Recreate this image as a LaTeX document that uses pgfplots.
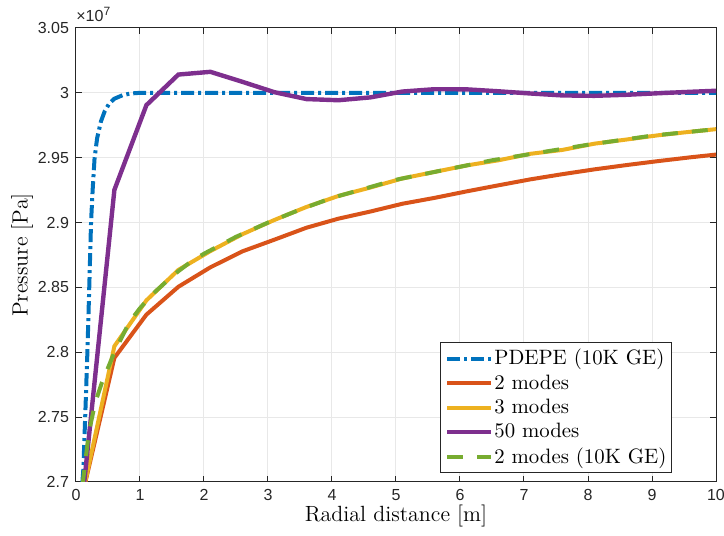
\documentclass[border=0pt]{standalone}
\usepackage{fontspec}
\usepackage{pgfplots}
\pgfplotsset{compat=1.18}
\newfontfamily\tickfont{Liberation Sans}
\definecolor{mblue}{rgb}{0,0.447,0.741}
\definecolor{morange}{rgb}{0.85,0.325,0.098}
\definecolor{myellow}{rgb}{0.929,0.694,0.125}
\definecolor{mpurple}{rgb}{0.494,0.184,0.556}
\definecolor{mgreen}{rgb}{0.466,0.674,0.188}
\definecolor{axgray}{rgb}{0.15,0.15,0.15}

\begin{document}
\begin{tikzpicture}
\begin{axis}[
  scale only axis,
  width=320pt, height=227pt,
  xmin=0, xmax=10,
  ymin=2.7e7, ymax=3.05e7,
  xtick={0,1,...,10},
  ytick={2.7e7,2.75e7,2.8e7,2.85e7,2.9e7,2.95e7,3e7,3.05e7},
  scaled y ticks=base 10:-7,
  ytick scale label code/.code={{\tickfont\fontsize{8}{9}\selectfont ×10\textsuperscript{#1}}},
  every y tick scale label/.style={at={(rel axis cs:0,1)}, anchor=south west, inner sep=0pt, yshift=3pt, text=axgray},
  /pgf/number format/assume math mode=true,
  tick label style={font=\tickfont\fontsize{8}{9}\selectfont, text=axgray},
  axis line style={axgray, line width=0.5pt},
  every tick/.style={axgray, line width=0.5pt},
  major tick length=3.2pt,
  tick align=inside,
  grid=major,
  major grid style={black!9, line width=0.5pt},
  xlabel={Radial distance [m]},
  ylabel={Pressure [Pa]},
  label style={font=\fontsize{11}{13}\selectfont},
  xlabel style={at={(axis description cs:0.5,-0.075)}, anchor=center},
  ylabel style={at={(axis description cs:-0.084,0.5)}, anchor=center},
  legend style={at={(rel axis cs:1,0)}, anchor=south east, xshift=-22pt, yshift=4.25pt,
    draw=axgray, fill=white, line width=0.5pt,
    font=\fontsize{10.4}{12}\selectfont,
    inner xsep=2pt, inner ysep=1.75pt,
    column sep=0pt,
    nodes={inner xsep=0.5pt, inner ysep=1.7pt}},
  legend cell align=left,
  legend image code/.code={\draw[#1] (0pt,0pt) -- (22pt,0pt);},
]
\addplot[mblue, line width=2pt, dash pattern=on 6.5pt off 2pt on 1.5pt off 2pt] coordinates {
  (0.1,2.700e7) (0.115,2.710e7) (0.145,2.752e7) (0.18,2.803e7) (0.21,2.855e7)
  (0.235,2.900e7) (0.26,2.925e7) (0.29,2.9495e7) (0.33,2.965e7) (0.39,2.978e7)
  (0.45,2.986e7) (0.52,2.9918e7) (0.6,2.9955e7) (0.73,2.9982e7) (0.85,2.9995e7)
  (1.0,3.000e7) (2,3.000e7) (4,3.000e7) (6,3.000e7) (8,3.000e7) (10,3.000e7)
};
\addlegendentry{PDEPE (10K GE)}
\addplot[morange, line width=2pt] coordinates {
  (0.1,2.690e7) (0.6,2.7957e7) (1.1,2.829e7) (1.6,2.8505e7) (2.1,2.8655e7)
  (2.6,2.8778e7) (3.1,2.8868e7) (3.6,2.896e7) (4.1,2.903e7) (4.6,2.9085e7)
  (5.1,2.9145e7) (5.6,2.919e7) (6.1,2.924e7) (6.6,2.9287e7) (7.1,2.9333e7)
  (7.6,2.9373e7) (8.1,2.941e7) (8.6,2.9443e7) (9.1,2.9474e7) (9.6,2.9503e7)
  (10,2.9524e7)
};
\addlegendentry{2 modes}
\addplot[myellow, line width=2pt] coordinates {
  (0.1,2.690e7) (0.6,2.8047e7) (1.1,2.840e7) (1.6,2.8635e7) (2.1,2.878e7)
  (2.6,2.891e7) (3.1,2.902e7) (3.6,2.912e7) (4.1,2.9205e7) (4.6,2.927e7)
  (5.1,2.934e7) (5.6,2.939e7) (6.1,2.944e7) (6.6,2.948e7) (7.1,2.953e7)
  (7.6,2.956e7) (8.1,2.9608e7) (8.6,2.964e7) (9.1,2.9673e7) (9.6,2.970e7)
  (10,2.972e7)
};
\addlegendentry{3 modes}
\addplot[mpurple, line width=2.2pt] coordinates {
  (0.1,2.686e7) (0.6,2.9252e7) (1.1,2.9905e7) (1.6,3.0141e7) (2.1,3.0162e7)
  (2.6,3.0085e7) (3.1,3.0005e7) (3.6,2.9952e7) (4.1,2.9943e7) (4.6,2.9965e7)
  (5.1,3.0010e7) (5.6,3.0028e7) (6.1,3.0027e7) (6.6,3.0012e7) (7.1,2.9995e7)
  (7.6,2.9980e7) (8.1,2.9977e7) (8.6,2.9985e7) (9.1,2.9997e7) (9.6,3.0008e7)
  (10,3.0016e7)
};
\addlegendentry{50 modes}
\addplot[mgreen, line width=2pt, dash pattern=on 8pt off 7pt] coordinates {
  (0.1,2.697e7) (0.13,2.709e7) (0.2,2.738e7) (0.3,2.761e7) (0.4,2.776e7)
  (0.5,2.788e7) (0.6,2.800e7) (0.7,2.810e7) (0.8,2.820e7) (0.9,2.8275e7)
  (1.0,2.834e7) (1.2,2.845e7) (1.4,2.854e7) (1.6,2.8625e7) (1.8,2.870e7)
  (2.0,2.876e7) (2.5,2.889e7) (3.0,2.900e7) (3.5,2.910e7) (4.0,2.919e7)
  (4.5,2.926e7) (5.0,2.933e7) (5.5,2.938e7) (6.0,2.943e7) (6.5,2.948e7)
  (7.0,2.952e7) (7.5,2.956e7) (8.0,2.960e7) (8.5,2.9635e7) (9.0,2.967e7)
  (9.5,2.9695e7) (10,2.972e7)
};
\addlegendentry{2 modes (10K GE)}
\coordinate (bl) at (rel axis cs:0,0);
\coordinate (tr) at (rel axis cs:1,1);
\end{axis}
\pgfresetboundingbox
\path (bl) ++(-38pt,-27pt) rectangle ([shift={(4pt,14pt)}]tr);
\end{tikzpicture}
\end{document}
